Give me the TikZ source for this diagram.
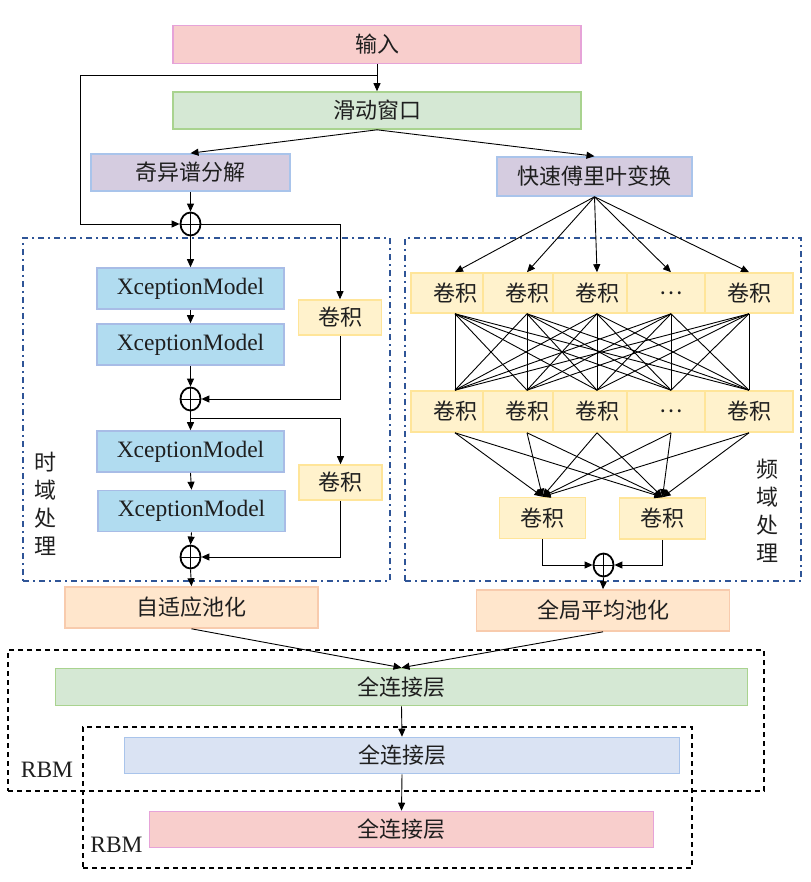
\documentclass[tikz,border=0pt]{standalone}
\usepackage{fontspec}
\setmainfont{Liberation Serif}
\newfontfamily\cjk{Noto Sans CJK SC}
\usetikzlibrary{arrows.meta,shapes.geometric}
\definecolor{pinkF}{HTML}{F8CECC}
\definecolor{pinkD}{HTML}{E6A3D8}
\definecolor{greenF}{HTML}{D5E8D4}
\definecolor{greenD}{HTML}{A9D38F}
\definecolor{lavF}{HTML}{D5CCE0}
\definecolor{blueD}{HTML}{A9C4EB}
\definecolor{skyF}{HTML}{B1DCF0}
\definecolor{skyD}{HTML}{A8BCE6}
\definecolor{yelF}{HTML}{FFF2CC}
\definecolor{yelD}{HTML}{FFE599}
\definecolor{orF}{HTML}{FFE6CC}
\definecolor{orD}{HTML}{F8CBAD}
\definecolor{fcbF}{HTML}{DAE3F3}
\definecolor{regD}{HTML}{2F5597}
\definecolor{txt}{HTML}{1F1F1F}
\begin{document}
\begin{tikzpicture}[x=1pt,y=-1pt,
  box/.style={draw, line width=1.6pt, inner sep=0pt, text=txt,
    font=\fontsize{22}{26}\selectfont\cjk},
  latin/.style={font=\fontsize{23.5}{27}\selectfont},
  pinkbox/.style={box, fill=pinkF, draw=pinkD},
  greenbox/.style={box, fill=greenF, draw=greenD},
  lavbox/.style={box, fill=lavF, draw=blueD},
  xbox/.style={box, fill=skyF, draw=skyD, latin, minimum width=187, minimum height=41},
  convbox/.style={box, fill=yelF, draw=yelD},
  poolbox/.style={box, fill=orF, draw=orD, minimum width=253, minimum height=41},
  fcblue/.style={box, fill=fcbF, draw=blueD},
  sumnode/.style={draw, line width=1.8pt, ellipse, minimum width=20, minimum height=23, inner sep=0pt,
    path picture={\draw[line width=0.8pt] (path picture bounding box.north) -- (path picture bounding box.south)
      (path picture bounding box.west) -- (path picture bounding box.east);}},
  region/.style={draw=regD, line width=1.8pt, dash pattern=on 6pt off 4pt on 2pt off 4pt, inner sep=0pt},
  rbmbox/.style={draw=black, line width=1.8pt, dash pattern=on 5pt off 4pt, inner sep=0pt},
  lbl/.style={text=txt, font=\fontsize{22}{28}\selectfont\cjk, align=center, inner sep=0pt},
  rbm/.style={text=txt, latin, inner sep=0pt},
  arr/.style={-{Triangle[length=8pt,width=7pt]}, line width=0.9pt},
  ln/.style={line width=0.9pt}
]
\useasboundingbox (0,0) rectangle (810,882);

% region boxes
\node[region, minimum width=367, minimum height=343] (treg) at (206.5,409.5) {};
\node[region, minimum width=396, minimum height=343] (freg) at (603,409.5) {};
\node[rbmbox, minimum width=756, minimum height=141] (rbm1) at (386,720.5) {};
\node[rbmbox, minimum width=609, minimum height=141] (rbm2) at (387.5,797.5) {};

% top
\node[pinkbox, minimum width=408, minimum height=38] (in) at (377,44.5) {输入};
\node[greenbox, minimum width=408, minimum height=37] (sw) at (377,110.5) {滑动窗口};
\node[lavbox, minimum width=199, minimum height=37] (ssa) at (190.5,172.5) {奇异谱分解};
\node[lavbox, minimum width=195, minimum height=39] (fft) at (594.5,176.5) {快速傅里叶变换};

% time branch
\node[sumnode] (s1) at (190.5,224) {};
\node[xbox] (x1) at (190.5,288.5) {XceptionModel};
\node[xbox] (x2) at (190.5,344.5) {XceptionModel};
\node[convbox, minimum width=83, minimum height=35] (c1) at (340,317.5) {卷积};
\node[sumnode] (s2) at (190.5,399) {};
\node[xbox] (x3) at (190.5,451.5) {XceptionModel};
\node[xbox] (x4) at (191.5,511) {XceptionModel};
\node[convbox, minimum width=83, minimum height=35] (c2) at (340.5,482.5) {卷积};
\node[sumnode] (s3) at (190.5,557) {};
\node[poolbox] (p1) at (191.5,607.5) {自适应池化};
\node[lbl] (tl) at (45,503.5) {时\\域\\处\\理};

% frequency branch
\foreach \n/\x/\t in {1/455/卷积, 2/527/卷积, 3/597/卷积, 4/671/…, 5/749/卷积}{
  \node[convbox, minimum width=88, minimum height=40] (t\n) at (\x,293) {\t};
}
\foreach \n/\x/\t in {1/455/卷积, 2/527/卷积, 3/597/卷积, 4/671/…, 5/749/卷积}{
  \node[convbox, minimum width=88, minimum height=41] (b\n) at (\x,411.5) {\t};
}
\node[convbox, minimum width=86, minimum height=41] (lc) at (542.5,518) {卷积};
\node[convbox, minimum width=86, minimum height=41] (rc) at (662.5,518.5) {卷积};
\node[sumnode] (s4) at (603.5,565) {};
\node[poolbox] (p2) at (603,610.5) {全局平均池化};
\node[lbl] (fl) at (767,510.5) {频\\域\\处\\理};

% fully connected
\node[greenbox, minimum width=692, minimum height=37] (f1) at (401.5,687) {全连接层};
\node[fcblue, minimum width=555, minimum height=36] (f2) at (402,755.5) {全连接层};
\node[pinkbox, minimum width=504, minimum height=36] (f3) at (401.5,829.5) {全连接层};
\node[rbm] (r1) at (47,770) {RBM};
\node[rbm] (r2) at (116.5,845) {RBM};

% connectors top
\coordinate (j1) at (377,75.5);
\coordinate (k1) at (80,75.5);
\draw[arr] (in.south) -- (sw.north);
\draw[ln] (j1) -- (k1);
\draw[arr] (k1) |- (s1.west);
\draw[arr] (sw.south) -- (ssa.north);
\draw[arr] (sw.south) -- (fft.north);
\draw[arr] (ssa.south) -- (s1.north);

% time connectors
\draw[arr] (s1.south) -- (x1.north);
\draw[arr] (s1.east) -| (c1.north);
\draw[arr] (x1.south) -- (x2.north);
\draw[arr] (x2.south) -- (s2.north);
\draw[arr] (c1.south) |- (s2.east);
\coordinate (br2) at (190.5,418);
\draw[arr] (s2.south) -- (x3.north);
\draw[arr] (br2) -| (c2.north);
\draw[arr] (x3.south) -- (x4.north);
\draw[arr] (x4.south) -- (s3.north);
\draw[arr] (c2.south) |- (s3.east);
\draw[arr] (s3.south) -- (p1.north);

% frequency connectors
\foreach \n in {1,...,5}{
  \draw[arr] (fft.south) -- (t\n.north);
  \draw[arr] (b\n.south) -- (lc.north);
  \draw[arr] (b\n.south) -- (rc.north);
  \foreach \m in {1,...,5}{
    \draw[ln] (t\n.south) -- (b\m.north);
  }
}
\draw[arr] (lc.south) |- (s4.west);
\draw[arr] (rc.south) |- (s4.east);
\draw[arr] (s4.south) -- (p2.north);

% bottom connectors
\draw[arr] (p1.south) -- (f1.north);
\draw[arr] (p2.south) -- (f1.north);
\draw[arr] (f1.south) -- (f2.north);
\draw[arr] (f2.south) -- (f3.north);
\end{tikzpicture}
\end{document}
